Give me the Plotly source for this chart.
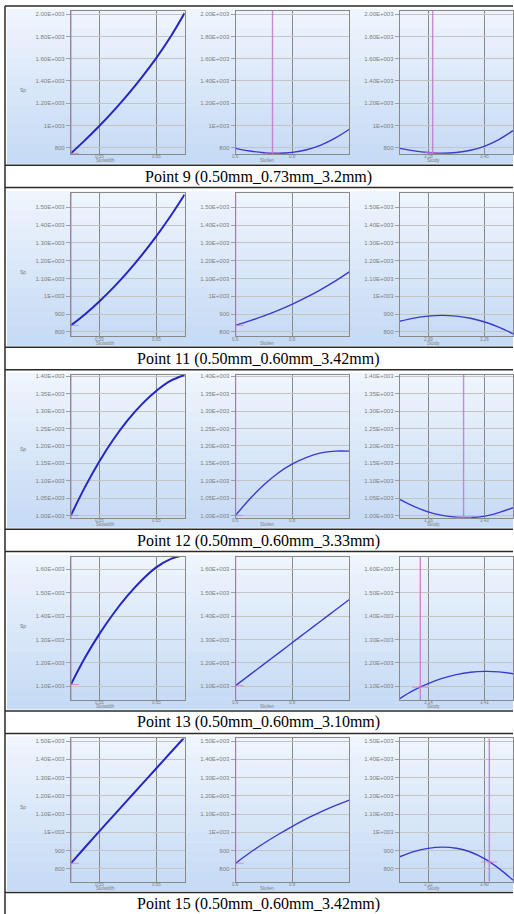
import numpy as np
import plotly.graph_objects as go

# ---------------- data ----------------
captions = [
    "Point 9 (0.50mm_0.73mm_3.2mm)",
    "Point 11 (0.50mm_0.60mm_3.42mm)",
    "Point 12 (0.50mm_0.60mm_3.33mm)",
    "Point 13 (0.50mm_0.60mm_3.10mm)",
    "Point 15 (0.50mm_0.60mm_3.42mm)",
]
param1_current = [0.50, 0.50, 0.50, 0.50, 0.50]
param2_current = [0.73, 0.60, 0.60, 0.60, 0.60]
param3_current = [3.20, 3.42, 3.33, 3.10, 3.42]

axis_titles = ["Slotwidth", "Slotlen", "Slotdy"]
y_title = "Sp"

# sample positions along each parameter
param1_x = [0.500, 0.525, 0.550, 0.575, 0.600, 0.625, 0.650, 0.675, 0.700]
param2_x = [0.60, 0.65, 0.70, 0.75, 0.80, 0.85, 0.90, 0.95, 1.00]
param3_x = [
    [3.040, 3.109, 3.178, 3.246, 3.315, 3.384, 3.453, 3.521, 3.590],
    [2.850, 2.919, 2.988, 3.056, 3.125, 3.194, 3.263, 3.331, 3.400],
    [3.020, 3.089, 3.158, 3.226, 3.295, 3.364, 3.433, 3.501, 3.570],
    [3.000, 3.069, 3.138, 3.206, 3.275, 3.344, 3.413, 3.481, 3.550],
    [2.985, 3.054, 3.123, 3.191, 3.260, 3.329, 3.398, 3.466, 3.535],
]

# response values (one list per row)
param1_y = [
    [749, 868, 995, 1131, 1277, 1435, 1605, 1795, 2010],
    [837, 900, 971, 1050, 1137, 1232, 1336, 1449, 1571],
    [1000, 1082, 1155, 1219, 1274, 1320, 1358, 1387, 1404],
    [1108, 1223, 1323, 1411, 1488, 1554, 1608, 1643, 1660],
    [830, 918, 1005, 1092, 1178, 1264, 1350, 1436, 1522],
]
param2_y = [
    [794, 770, 755, 750, 758, 782, 824, 886, 966],
    [837, 862, 890, 921, 956, 995, 1038, 1085, 1137],
    [1000, 1047, 1088, 1122, 1148, 1167, 1180, 1185, 1185],
    [1103, 1149, 1195, 1241, 1287, 1333, 1379, 1425, 1471],
    [830, 888, 940, 988, 1033, 1075, 1112, 1146, 1176],
]
param3_y = [
    [794, 772, 757, 751, 757, 777, 815, 873, 953],
    [860, 878, 889, 893, 889, 877, 856, 827, 790],
    [1046, 1026, 1010, 1000, 995, 994, 998, 1008, 1022],
    [1048, 1084, 1112, 1134, 1150, 1160, 1164, 1162, 1154],
    [866, 894, 912, 919, 913, 892, 854, 802, 738],
]

# axis ranges and ticks
param1_range = [0.50, 0.70]
param1_ticks = [0.55, 0.65]
param2_range = [0.60, 1.00]
param2_ticks = [0.6, 0.8]
param3_ranges = [[3.040, 3.590], [2.850, 3.400], [3.020, 3.570], [3.000, 3.550], [2.985, 3.535]]

y_ranges = [[742, 2029], [776, 1579], [992, 1404], [1042, 1653], [730, 1515]]
y_tickvals = [
    [800, 1000, 1200, 1400, 1600, 1800, 2000],
    [800, 900, 1000, 1100, 1200, 1300, 1400, 1500],
    [1000, 1050, 1100, 1150, 1200, 1250, 1300, 1350, 1400],
    [1100, 1200, 1300, 1400, 1500, 1600],
    [800, 900, 1000, 1100, 1200, 1300, 1400, 1500],
]
y_ticktext = [
    ["800", "1E+003", "1.20E+003", "1.40E+003", "1.60E+003", "1.80E+003", "2.00E+003"],
    ["800", "900", "1E+003", "1.10E+003", "1.20E+003", "1.30E+003", "1.40E+003", "1.50E+003"],
    ["1.00E+003", "1.05E+003", "1.10E+003", "1.15E+003", "1.20E+003", "1.25E+003",
     "1.30E+003", "1.35E+003", "1.40E+003"],
    ["1.10E+003", "1.20E+003", "1.30E+003", "1.40E+003", "1.50E+003", "1.60E+003"],
    ["800", "900", "1E+003", "1.10E+003", "1.20E+003", "1.30E+003", "1.40E+003", "1.50E+003"],
]

# ---------------- layout geometry (pixels) ----------------
W, H = 514, 914
ROW_TOP = [7, 189.5, 371.8, 554, 736]
PANEL_X = [(71, 185), (236, 350), (400.5, 514)]
TITLE_X = [106, 268, 434]


def px_x(v):
    return v / W


def px_y(v):
    return 1 - v / H


fig = go.Figure()
layout = {}
shapes = []
annotations = []

# row backgrounds (light blue vertical gradient)
top_c = np.array([238, 245, 253])
bot_c = np.array([198, 219, 245])
NB = 16
for r, rt in enumerate(ROW_TOP):
    y0, y1 = rt, rt + 154.5
    for b in range(NB):
        t = b / (NB - 1)
        c = (top_c * (1 - t) + bot_c * t).astype(int)
        shapes.append(dict(type="rect", xref="paper", yref="paper",
                           x0=px_x(7), x1=1.0,
                           y0=px_y(y0 + (y1 - y0) * b / NB),
                           y1=px_y(y0 + (y1 - y0) * (b + 1) / NB + 0.5),
                           fillcolor=f"rgb({c[0]},{c[1]},{c[2]})",
                           line=dict(width=0), layer="below"))

# table lines
LINE_C = "#2a2a2a"
shapes.append(dict(type="line", xref="paper", yref="paper", x0=px_x(5), x1=1,
                   y0=px_y(4), y1=px_y(4), line=dict(color=LINE_C, width=1.5)))
shapes.append(dict(type="line", xref="paper", yref="paper", x0=px_x(5), x1=px_x(5),
                   y0=px_y(4), y1=0, line=dict(color=LINE_C, width=1.5)))
for r, rt in enumerate(ROW_TOP):
    for yy in (rt + 156.5, rt + 179):
        shapes.append(dict(type="line", xref="paper", yref="paper", x0=px_x(5), x1=1,
                           y0=px_y(yy), y1=px_y(yy), line=dict(color=LINE_C, width=1.5)))
    annotations.append(dict(text=captions[r], xref="paper", yref="paper",
                            x=px_x(259.5), y=px_y(rt + 168), showarrow=False,
                            xanchor="center", yanchor="middle",
                            font=dict(family="Liberation Serif", size=16, color="#000000")))
    annotations.append(dict(text=y_title, xref="paper", yref="paper",
                            x=px_x(18), y=px_y(rt + 76), showarrow=False,
                            font=dict(family="Liberation Sans", size=5, color="#777777")))

MAG = "rgba(196,110,200,0.8)"
SMALL = dict(size=4.5, color="#808080", family="Liberation Sans")

for r, rt in enumerate(ROW_TOP):
    ytop, ybot = rt + 2, rt + 145.5
    p3r = param3_ranges[r]
    panel_data = [
        (param1_x, param1_y[r], param1_range, param1_ticks, param1_current[r], "{:.2f}"),
        (param2_x, param2_y[r], param2_range, param2_ticks, param2_current[r], "{:.1f}"),
        (param3_x[r], param3_y[r], p3r,
         [p3r[0] + 0.25 * (p3r[1] - p3r[0]), p3r[0] + 0.75 * (p3r[1] - p3r[0])],
         param3_current[r], "{:.2f}"),
    ]
    for p, (xs, ys, xr, xt, cur, fmt) in enumerate(panel_data):
        idx = r * 3 + p + 1
        sfx = "" if idx == 1 else str(idx)
        xa, ya = "x" + sfx, "y" + sfx
        x0p, x1p = PANEL_X[p]
        fig.add_trace(go.Scatter(
            x=xs, y=ys, mode="lines", xaxis=xa, yaxis=ya,
            line=dict(shape="spline", smoothing=1.0,
                      color="#2626c4" if p == 0 else "#3a3ad2",
                      width=2.0 if p == 0 else 1.4),
            hoverinfo="skip", showlegend=False))
        layout["xaxis" + sfx] = dict(
            domain=[px_x(x0p), min(1.0, px_x(x1p))], range=xr, anchor=ya,
            tickvals=xt, showticklabels=False,
            showgrid=True, gridcolor="#8a8a8a", gridwidth=1, ticks="",
            showline=True, mirror=True, linecolor="#8a8a8a", linewidth=1,
            zeroline=False, fixedrange=True)
        layout["yaxis" + sfx] = dict(
            domain=[px_y(ybot), px_y(ytop)], range=y_ranges[r], anchor=xa,
            tickvals=y_tickvals[r], ticktext=y_ticktext[r],
            showgrid=True, gridcolor="#c4c4c4", gridwidth=1,
            ticks="outside", ticklen=4, tickcolor="#a0a0a0",
            tickfont=dict(size=6, color="#808080", family="Liberation Sans"),
            showline=True, mirror=True, linecolor="#8a8a8a", linewidth=1,
            zeroline=False, fixedrange=True)
        # x tick labels (placed just under the plot)
        for tv in xt:
            annotations.append(dict(text=fmt.format(tv), xref=xa, yref="paper",
                                    x=tv, y=px_y(rt + 148.3), showarrow=False,
                                    xanchor="center", yanchor="middle", font=SMALL))
        annotations.append(dict(text=axis_titles[p], xref="paper", yref="paper",
                                x=px_x(TITLE_X[p]), y=px_y(rt + 152.3), showarrow=False,
                                xanchor="center", yanchor="middle", font=SMALL))
        # current-value marker
        if xr[0] <= cur <= xr[1]:
            shapes.append(dict(type="line", xref=xa, yref=ya + " domain",
                               x0=cur, x1=cur, y0=0, y1=1,
                               line=dict(color=MAG, width=1.4), layer="above"))
            yc = float(np.interp(cur, xs, ys))
            dx = (xr[1] - xr[0]) * 8 / 114
            shapes.append(dict(type="line", xref=xa, yref=ya,
                               x0=max(xr[0], cur - dx), x1=min(xr[1], cur + dx),
                               y0=yc, y1=yc,
                               line=dict(color="rgba(215,120,215,0.8)", width=1), layer="above"))

fig.update_layout(
    width=W, height=H, margin=dict(l=0, r=0, t=0, b=0),
    paper_bgcolor="#ffffff", plot_bgcolor="#e5e5e5",
    shapes=shapes, annotations=annotations, showlegend=False,
    **layout)

fig.write_html(
    "out.html",
    config={"displayModeBar": False},
    post_script="document.body.style.margin='0px';document.body.style.overflow='hidden';",
)
